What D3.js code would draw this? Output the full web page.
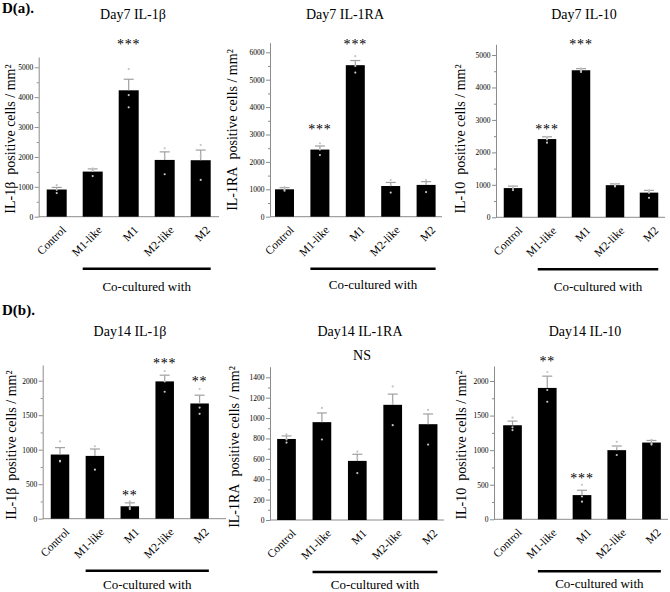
<!DOCTYPE html>
<html>
<head>
<meta charset="utf-8">
<script src="https://cdn.jsdelivr.net/npm/d3@7"></script>
<style>
	body { margin: 0; background: #fff; }
	text { font-family: "Liberation Serif", "Times New Roman", serif; }
</style>
</head>
<body>
<div id="chart-area"></div>
<script>
const categories = ["Control", "M1-like", "M1", "M2-like", "M2"]

// Day7 IL-1b
const d7Il1bMean = [910, 1510, 4230, 1900, 1890]
const d7Il1bSem = [70, 90, 370, 270, 340]
const d7Il1bPoints = [[1060, 900, 790], [1620, 1540, 1360], [4940, 4070, 3660], [2290, 1990, 1420], [2400, 2040, 1230]]
const d7Il1bStars = ["", "", "***", "", ""]
const d7Il1bStarAt = [0, 0, 5850, 0, 0]
const d7Il1bTicks = [0, 1000, 2000, 3000, 4000, 5000]

// Day7 IL-1RA
const d7Il1raMean = [1000, 2450, 5530, 1120, 1160]
const d7Il1raSem = [60, 130, 170, 130, 120]
const d7Il1raPoints = [[1080, 1000, 950], [2680, 2450, 2250], [5860, 5500, 5260], [1340, 1150, 880], [1340, 1200, 900]]
const d7Il1raStars = ["", "***", "***", "", ""]
const d7Il1raStarAt = [0, 3310, 6380, 0, 0]
const d7Il1raTicks = [0, 1000, 2000, 3000, 4000, 5000, 6000]

// Day7 IL-10
const d7Il10Mean = [900, 2410, 4530, 990, 760]
const d7Il10Sem = [60, 70, 50, 40, 70]
const d7Il10Points = [[960, 900, 840], [2480, 2400, 2300], [4590, 4530, 4480], [1030, 990, 950], [830, 760, 600]]
const d7Il10Stars = ["", "***", "***", "", ""]
const d7Il10StarAt = [0, 2810, 5430, 0, 0]
const d7Il10Ticks = [0, 1000, 2000, 3000, 4000, 5000]

// Day14 IL-1b
const d14Il1bMean = [930, 910, 180, 1990, 1670]
const d14Il1bSem = [100, 100, 50, 90, 120]
const d14Il1bPoints = [[1120, 840, 830], [1050, 970, 710], [250, 160, 140], [2140, 1990, 1840], [1880, 1610, 1520]]
const d14Il1bStars = ["", "", "**", "***", "**"]
const d14Il1bStarAt = [0, 0, 385, 2300, 2025]
const d14Il1bTicks = [0, 500, 1000, 1500, 2000]

// Day14 IL-1RA
const d14Il1raMean = [795, 960, 580, 1130, 940]
const d14Il1raSem = [30, 90, 65, 105, 100]
const d14Il1raPoints = [[840, 790, 760], [1100, 990, 790], [670, 610, 460], [1310, 1150, 930], [1080, 1000, 740]]
const d14Il1raStars = ["", "", "", "", ""]
const d14Il1raStarAt = [0, 0, 0, 0, 0]
const d14Il1raTicks = [0, 200, 400, 600, 800, 1000, 1200, 1400]

// Day14 IL-10
const d14Il10Mean = [1360, 1900, 350, 1000, 1110]
const d14Il10Sem = [60, 170, 70, 60, 30]
const d14Il10Points = [[1470, 1330, 1290], [2130, 1870, 1700], [500, 330, 255], [1120, 1050, 930], [1150, 1100, 1080]]
const d14Il10Stars = ["", "**", "***", "", ""]
const d14Il10StarAt = [0, 2330, 640, 0, 0]
const d14Il10Ticks = [0, 500, 1000, 1500, 2000]

const AXIS_GREY = "#8c8c8c"
const ERR_GREY = "#a0a0a0"
const DOT_GREY = "#c4c4c4"

// layout of each panel (pixel positions)
const panels = [
	{ title: "Day7 IL-1\u03b2", yLabel: "IL-1\u03b2\u00a0 positive cells / mm\u00b2", mean: d7Il1bMean, sem: d7Il1bSem, points: d7Il1bPoints, stars: d7Il1bStars, starAt: d7Il1bStarAt, ticks: d7Il1bTicks,
		axisX: 38.7, xEnd: 219, zeroY: 216.7, topY: 57, refVal: 5000, refY: 67.3, c0: 56.7, step: 36, bw: 20, titleX: 133, titleY: 18.5, labelX: 15, labelY: 139, coY: 74 },
	{ title: "Day7 IL-1RA", yLabel: "IL-1RA\u00a0 positive cells / mm\u00b2", mean: d7Il1raMean, sem: d7Il1raSem, points: d7Il1raPoints, stars: d7Il1raStars, starAt: d7Il1raStarAt, ticks: d7Il1raTicks,
		axisX: 270, xEnd: 442, zeroY: 216.7, topY: 42.7, refVal: 6000, refY: 52.3, c0: 284.5, step: 35.4, bw: 19, titleX: 345, titleY: 18.5, labelX: 237, labelY: 130, coY: 72.5 },
	{ title: "Day7 IL-10", yLabel: "IL-10\u00a0 positive cells / mm\u00b2", mean: d7Il10Mean, sem: d7Il10Sem, points: d7Il10Points, stars: d7Il10Stars, starAt: d7Il10StarAt, ticks: d7Il10Ticks,
		axisX: 496, xEnd: 665, zeroY: 217.3, topY: 44.3, refVal: 5000, refY: 55, c0: 513, step: 34, bw: 18.5, titleX: 584, titleY: 18.5, labelX: 465, labelY: 139, coY: 74 },
	{ title: "Day14 IL-1\u03b2", yLabel: "IL-1\u03b2\u00a0 positive cells / mm\u00b2", mean: d14Il1bMean, sem: d14Il1bSem, points: d14Il1bPoints, stars: d14Il1bStars, starAt: d14Il1bStarAt, ticks: d14Il1bTicks,
		axisX: 42.7, xEnd: 226, zeroY: 518.7, topY: 365, refVal: 2000, refY: 380.7, c0: 60, step: 34.9, bw: 18.5, titleX: 130, titleY: 336, labelX: 16, labelY: 445, coY: 70 },
	{ title: "Day14 IL-1RA", yLabel: "IL-1RA\u00a0 positive cells / mm\u00b2", mean: d14Il1raMean, sem: d14Il1raSem, points: d14Il1raPoints, stars: d14Il1raStars, starAt: d14Il1raStarAt, ticks: d14Il1raTicks,
		axisX: 270, xEnd: 444, zeroY: 520, topY: 366.7, refVal: 1400, refY: 377.3, c0: 286.5, step: 35.4, bw: 18.7, titleX: 360, titleY: 336, labelX: 239, labelY: 447, coY: 68.5, note: "NS", noteX: 362, noteY: 360 },
	{ title: "Day14 IL-10", yLabel: "IL-10\u00a0 positive cells / mm\u00b2", mean: d14Il10Mean, sem: d14Il10Sem, points: d14Il10Points, stars: d14Il10Stars, starAt: d14Il10StarAt, ticks: d14Il10Ticks,
		axisX: 494, xEnd: 668, zeroY: 519.3, topY: 366, refVal: 2000, refY: 381, c0: 512.5, step: 34.75, bw: 18.7, titleX: 585, titleY: 336, labelX: 466, labelY: 445, coY: 69 }
]

const svg = d3.select("#chart-area").append("svg")
	.attr("width", 670)
	.attr("height", 592)
	.style("background", "#fff")

// panel letters
svg.append("text").attr("x", 2).attr("y", 13)
	.attr("font-size", "15px").attr("font-weight", "bold").text("D(a).")
svg.append("text").attr("x", 2).attr("y", 315)
	.attr("font-size", "15px").attr("font-weight", "bold").text("D(b).")

panels.forEach(p => {
	const g = svg.append("g")

	const yMax = p.refVal * (p.zeroY - p.topY) / (p.zeroY - p.refY)
	const y = d3.scaleLinear().domain([0, yMax]).range([p.zeroY, p.topY])
	const pad = 1 - p.bw / p.step
	const x = d3.scaleBand()
		.domain(categories)
		.range([p.c0 - p.step / 2, p.c0 + 4.5 * p.step])
		.paddingInner(pad)
		.paddingOuter(pad / 2)
	const cx = c => x(c) + x.bandwidth() / 2

	// x axis line
	g.append("line")
		.attr("x1", p.axisX).attr("x2", p.xEnd)
		.attr("y1", p.zeroY).attr("y2", p.zeroY)
		.attr("stroke", AXIS_GREY)

	// minor ticks
	const minor = d3.pairs(p.ticks).map(([a, b]) => (a + b) / 2)
	const minorAxis = g.append("g")
		.attr("transform", `translate(${p.axisX}, 0)`)
		.call(d3.axisLeft(y).tickValues(minor).tickSize(2).tickFormat(""))
	minorAxis.select(".domain").remove()
	minorAxis.selectAll("line").attr("stroke", AXIS_GREY)

	const yAxis = g.append("g")
		.attr("transform", `translate(${p.axisX}, 0)`)
		.call(d3.axisLeft(y).tickValues(p.ticks).tickSize(4).tickSizeOuter(0).tickPadding(1.5).tickFormat(d3.format("d")))
	yAxis.select(".domain").attr("stroke", AXIS_GREY)
	yAxis.selectAll("line").attr("stroke", AXIS_GREY)
	yAxis.selectAll("text")
		.attr("font-size", "7.5px")
		.attr("fill", "#000")

	// bars
	g.selectAll(".bar").data(categories).enter().append("rect")
		.attr("class", "bar")
		.attr("x", c => x(c))
		.attr("width", x.bandwidth())
		.attr("y", (c, i) => y(p.mean[i]))
		.attr("height", (c, i) => p.zeroY - y(p.mean[i]))
		.attr("fill", "#000")

	// error bars (upper half only)
	categories.forEach((c, i) => {
		const top = y(p.mean[i] + p.sem[i])
		g.append("line")
			.attr("x1", cx(c)).attr("x2", cx(c))
			.attr("y1", y(p.mean[i])).attr("y2", top)
			.attr("stroke", ERR_GREY).attr("stroke-width", 1.2)
		g.append("line")
			.attr("x1", cx(c) - 5).attr("x2", cx(c) + 5)
			.attr("y1", top).attr("y2", top)
			.attr("stroke", ERR_GREY).attr("stroke-width", 1.2)

		// individual points
		p.points[i].forEach(v => {
			g.append("circle")
				.attr("cx", cx(c)).attr("cy", y(v))
				.attr("r", 1.1)
				.attr("fill", DOT_GREY)
		})

		// significance
		if (p.stars[i]) {
			g.append("text")
				.attr("x", cx(c)).attr("y", y(p.starAt[i]) + 7.5)
				.attr("text-anchor", "middle")
				.attr("font-size", "14px")
				.attr("letter-spacing", "0.8px")
				.text(p.stars[i])
		}

		// category label
		g.append("text")
			.attr("transform", `translate(${cx(c) + 10}, ${p.zeroY + 14}) rotate(-45)`)
			.attr("text-anchor", "end")
			.attr("font-size", "11.5px")
			.text(c)
	})

	// co-cultured bracket
	const bx1 = x("M1-like"), bx2 = x("M2") + x.bandwidth()
	g.append("line")
		.attr("x1", bx1).attr("x2", bx2)
		.attr("y1", p.zeroY + 52).attr("y2", p.zeroY + 52)
		.attr("stroke", "#000").attr("stroke-width", 2.6)
	g.append("text")
		.attr("x", (bx1 + bx2) / 2).attr("y", p.zeroY + p.coY)
		.attr("text-anchor", "middle")
		.attr("font-size", "13px")
		.text("Co-cultured with")

	// title
	g.append("text")
		.attr("x", p.titleX).attr("y", p.titleY)
		.attr("text-anchor", "middle")
		.attr("font-size", "14px")
		.text(p.title)

	if (p.note) {
		g.append("text")
			.attr("x", p.noteX).attr("y", p.noteY)
			.attr("text-anchor", "middle")
			.attr("font-size", "14px")
			.text(p.note)
	}

	// y label
	g.append("text")
		.attr("transform", `translate(${p.labelX}, ${p.labelY}) rotate(-90)`)
		.attr("text-anchor", "middle")
		.attr("font-size", "14px")
		.text(p.yLabel)
})
</script>
</body>
</html>
